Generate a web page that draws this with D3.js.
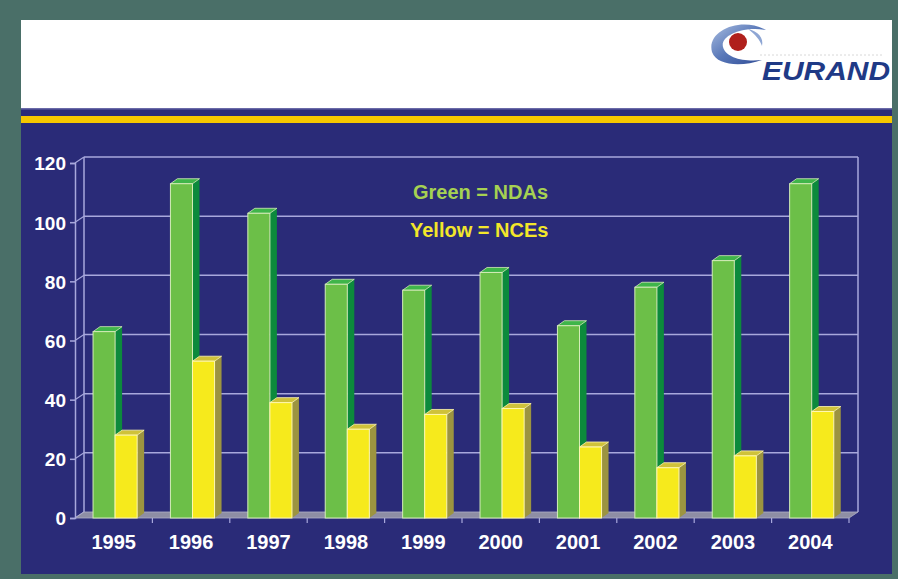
<!DOCTYPE html>
<html>
<head>
<meta charset="utf-8">
<script src="https://cdn.jsdelivr.net/npm/d3@7/dist/d3.min.js"></script>
<style>
  html, body { margin: 0; padding: 0; background: #4a6f68; }
  svg { display: block; }
</style>
</head>
<body>
<svg id="chart" width="898" height="579"></svg>
<script>
// Approvals per year
const years = ["1995", "1996", "1997", "1998", "1999", "2000", "2001", "2002", "2003", "2004"];
const ndas = [63, 113, 103, 79, 77, 83, 65, 78, 87, 113];
const nces = [28, 53, 39, 30, 35, 37, 24, 17, 21, 36];
const yTicks = [0, 20, 40, 60, 80, 100, 120];
const legendLines = ["Green = NDAs", "Yellow = NCEs"];

const svg = d3.select("#chart");
const font = "'Liberation Sans', Arial, sans-serif";

// Frame, header and body panels
svg.append("rect").attr("x", 0).attr("y", 0).attr("width", 898).attr("height", 579).attr("fill", "#4a6f68");
svg.append("rect").attr("x", 21).attr("y", 20).attr("width", 871).attr("height", 554).attr("fill", "#2a2b78");
svg.append("rect").attr("x", 21).attr("y", 20).attr("width", 871).attr("height", 88).attr("fill", "#ffffff");
svg.append("rect").attr("x", 21).attr("y", 108).attr("width", 871).attr("height", 1.5).attr("fill", "#6a6aa8");
svg.append("rect").attr("x", 21).attr("y", 116).attr("width", 871).attr("height", 7).attr("fill", "#f6c700");

// Logo
const logo = svg.append("g");
const swirl = svg.append("defs").append("linearGradient").attr("id", "swirlGrad")
  .attr("x1", "0").attr("y1", "0").attr("x2", "1").attr("y2", "1");
swirl.append("stop").attr("offset", "0").attr("stop-color", "#a9bde0");
swirl.append("stop").attr("offset", "0.5").attr("stop-color", "#5877b8");
swirl.append("stop").attr("offset", "1").attr("stop-color", "#2d4a94");
logo.append("path")
  .attr("d", "M766 30 C742 16 706 30 712 52 C717 66 742 67 762 60 C744 62 726 58 723 47 C720 36 742 26 766 30 Z")
  .attr("fill", "url(#swirlGrad)");
logo.append("path")
  .attr("d", "M748 29 C758 31 764 38 762 46 C760 40 755 34 748 29 Z")
  .attr("fill", "#8ea6d4");
logo.append("circle").attr("cx", 738).attr("cy", 42).attr("r", 9).attr("fill", "#b0201c");
logo.append("line").attr("x1", 760).attr("y1", 55).attr("x2", 882).attr("y2", 55)
  .attr("stroke", "#d8d8d8").attr("stroke-width", 1).attr("stroke-dasharray", "2,2");
logo.append("text").attr("x", 762).attr("y", 80)
  .attr("textLength", 128).attr("lengthAdjust", "spacingAndGlyphs")
  .attr("font-family", font).attr("font-weight", "bold").attr("font-style", "italic")
  .attr("font-size", 25).attr("fill", "#1f3a86").text("EURAND");

// Scales (front plane of the 3D box)
const x = d3.scaleBand().domain(years).range([75, 849]).paddingInner(0).paddingOuter(0);
const y = d3.scaleLinear().domain([0, 120]).range([518, 163]);
const wallDx = 9, wallDy = -6;    // depth of the back wall
const barDx = 7, barDy = -5;      // depth of each bar
const gridColor = "#a8a8dc";

const chart = svg.append("g");

// Back wall gridlines + left wall diagonals
yTicks.forEach(t => {
  const yy = y(t);
  if (t > 0) {
    chart.append("line").attr("x1", 75 + wallDx).attr("x2", 849 + wallDx)
      .attr("y1", yy + wallDy).attr("y2", yy + wallDy)
      .attr("stroke", gridColor).attr("stroke-width", 1.5);
  }
  chart.append("line").attr("x1", 75).attr("y1", yy).attr("x2", 75 + wallDx).attr("y2", yy + wallDy)
    .attr("stroke", gridColor).attr("stroke-width", 1.2);
});
// Wall edges
chart.append("line").attr("x1", 75 + wallDx).attr("x2", 75 + wallDx).attr("y1", y(120) + wallDy).attr("y2", y(0) + wallDy)
  .attr("stroke", gridColor).attr("stroke-width", 1.5);
chart.append("line").attr("x1", 849 + wallDx).attr("x2", 849 + wallDx).attr("y1", y(120) + wallDy).attr("y2", y(0) + wallDy)
  .attr("stroke", gridColor).attr("stroke-width", 1.5);

// Floor
chart.append("polygon")
  .attr("points", [[75, y(0)], [849, y(0)], [849 + wallDx, y(0) + wallDy], [75 + wallDx, y(0) + wallDy]].map(p => p.join(",")).join(" "))
  .attr("fill", "#8e8ea4").attr("stroke", "#b0b0c8").attr("stroke-width", 0.8);

// Front value axis
const yAxis = d3.axisLeft(y).tickValues(yTicks).tickSize(5).tickPadding(4);
const yAxisG = chart.append("g").attr("transform", "translate(75,0)").call(yAxis);
yAxisG.select(".domain").attr("stroke", gridColor).attr("stroke-width", 1.5);
yAxisG.selectAll(".tick line").attr("stroke", gridColor).attr("stroke-width", 1.5);
yAxisG.selectAll(".tick text").attr("fill", "#ffffff").attr("font-family", font)
  .attr("font-weight", "bold").attr("font-size", 19).attr("dy", "0.36em");

// Category axis
const xAxis = d3.axisBottom(x).tickSize(0).tickPadding(17);
const xAxisG = chart.append("g").attr("transform", `translate(0,${y(0)})`).call(xAxis);
xAxisG.select(".domain").remove();
xAxisG.selectAll(".tick text").attr("fill", "#ffffff").attr("font-family", font)
  .attr("font-weight", "bold").attr("font-size", 20).attr("dy", "0.71em");
years.slice(1).concat(["end"]).forEach((yr, i) => {
  const bx = yr === "end" ? 849 : x(yr);
  chart.append("line").attr("x1", bx).attr("x2", bx).attr("y1", y(0)).attr("y2", y(0) + 5)
    .attr("stroke", gridColor).attr("stroke-width", 1.2);
});

// Legend
const legendColors = ["#a6d152", "#f2e62a"];
legendLines.forEach((txt, i) => {
  chart.append("text").attr("x", i === 0 ? 413 : 410).attr("y", i === 0 ? 199 : 237)
    .attr("font-family", font).attr("font-weight", "bold").attr("font-size", 20)
    .attr("fill", legendColors[i]).text(txt);
});

// 3D bars
const bw = x.bandwidth();
const faceW = bw * 0.285;
const offset = bw * 0.233;
function bar3d(g, x0, v, colors) {
  const x1 = x0 + faceW, top = y(v), base = y(0);
  g.append("polygon")
    .attr("points", [[x1, base], [x1 + barDx, base + barDy], [x1 + barDx, top + barDy], [x1, top]].map(p => p.join(",")).join(" "))
    .attr("fill", colors.side);
  g.append("polygon")
    .attr("points", [[x0, top], [x0 + barDx, top + barDy], [x1 + barDx, top + barDy], [x1, top]].map(p => p.join(",")).join(" "))
    .attr("fill", colors.top).attr("stroke", colors.edge).attr("stroke-width", 0.8);
  g.append("rect").attr("x", x0).attr("y", top).attr("width", faceW).attr("height", base - top)
    .attr("fill", colors.front).attr("stroke", colors.edge).attr("stroke-width", 1);
}
const greenColors = { front: "#6cbf48", side: "#0c8a3c", top: "#3fb54a", edge: "#d4ecb8" };
const yellowColors = { front: "#f6ea1c", side: "#9c9440", top: "#cfc23a", edge: "#fff8b0" };

const bars = chart.append("g");
years.forEach((yr, i) => {
  const gx = x(yr) + offset;
  bar3d(bars, gx, ndas[i], greenColors);
  bar3d(bars, gx + faceW, nces[i], yellowColors);
});
</script>
</body>
</html>
